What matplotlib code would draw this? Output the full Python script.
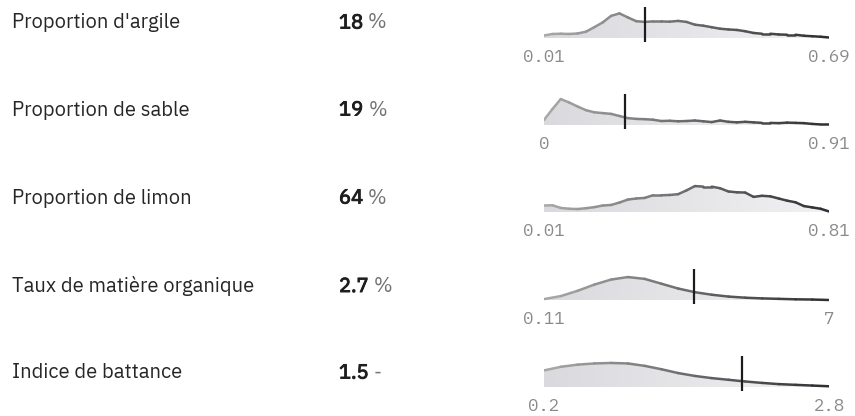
import numpy as np
import matplotlib.pyplot as plt
import matplotlib.patheffects as pe
from matplotlib.collections import LineCollection
from matplotlib.colors import LinearSegmentedColormap, Normalize

# ---- data ----
labels = ["Proportion d'argile", "Proportion de sable", "Proportion de limon",
          "Taux de matière organique", "Indice de battance"]
values = ["18", "19", "64", "2.7", "1.5"]
units = ["%", "%", "%", "%", "-"]
range_min = [0.01, 0.0, 0.01, 0.11, 0.2]
range_max = [0.69, 0.91, 0.81, 7.0, 2.8]
tick_min = ["0.01", "0", "0.01", "0.11", "0.2"]
tick_max = ["0.69", "0.91", "0.81", "7", "2.8"]
markers = [0.25, 0.26, None, 3.73, 2.01]
peaks = [0.93, 0.98, 1.0, 0.85, 0.89]

dens_argile = [0.10, 0.16, 0.17, 0.16, 0.18, 0.25, 0.43, 0.62, 0.88, 0.98, 0.82, 0.67,
               0.64, 0.66, 0.66, 0.65, 0.68, 0.64, 0.53, 0.49, 0.43, 0.37, 0.34, 0.32,
               0.27, 0.20, 0.17, 0.17, 0.14, 0.13, 0.13, 0.09, 0.07, 0.05, 0.02]
dens_sable = [0.19, 0.60, 0.98, 0.85, 0.70, 0.56, 0.48, 0.45, 0.42, 0.34, 0.26, 0.23,
              0.22, 0.20, 0.15, 0.16, 0.14, 0.15, 0.17, 0.14, 0.11, 0.17, 0.12, 0.10,
              0.12, 0.10, 0.08, 0.08, 0.07, 0.09, 0.08, 0.07, 0.04, 0.02, 0.02]
dens_limon = [0.24, 0.25, 0.15, 0.12, 0.11, 0.14, 0.18, 0.24, 0.26, 0.35, 0.46, 0.50,
              0.52, 0.62, 0.62, 0.63, 0.66, 0.80, 0.96, 0.94, 0.94, 0.88, 0.76, 0.73,
              0.72, 0.56, 0.60, 0.58, 0.50, 0.42, 0.36, 0.22, 0.17, 0.12, 0.02]
dens_mo = [0.04, 0.17, 0.40, 0.67, 0.89, 1.00, 0.92, 0.71, 0.50, 0.34, 0.23, 0.15,
           0.10, 0.07, 0.05, 0.03, 0.02, 0.00]
dens_battance = [0.69, 0.84, 0.93, 0.98, 1.00, 0.98, 0.88, 0.74, 0.58, 0.46, 0.37, 0.30,
                 0.23, 0.17, 0.12, 0.09, 0.06, 0.03]
densities = [dens_argile, dens_sable, dens_limon, dens_mo, dens_battance]

# ---- layout (pixels) ----
W, H = 855, 416
text_y = [21.5, 108.5, 196.5, 285, 371.5]
baselines = [38, 125, 212, 300, 387]
spark_x0, spark_x1 = 544, 829
unit_px = 27.0  # height of density 1.0 in pixels

fig = plt.figure(figsize=(W / 100, H / 100), dpi=100)
fig.patch.set_facecolor("white")
renderer = fig.canvas.get_renderer()

line_cmap = LinearSegmentedColormap.from_list("line", ["#a9a9a9", "#2f2f33"])
fill_cmap = LinearSegmentedColormap.from_list("fill", ["#dadade", "#f1f1f3"])
sans = ["IBM Plex Sans", "Noto Sans", "DejaVu Sans"]
mono = ["IBM Plex Mono", "DejaVu Sans Mono"]
fs = 14.5

for i in range(5):
    yb = 1 - (text_y[i] + 7) / H
    fig.text(12 / W, yb, labels[i], fontsize=fs, family=sans, color="#262626",
             va="baseline", ha="left")
    t = fig.text(339 / W, yb, values[i], fontsize=fs, family=sans, color="#1e1e1e",
                 fontweight="bold", va="baseline", ha="left",
                 path_effects=[pe.withStroke(linewidth=0.7, foreground="#1e1e1e")])
    bb = t.get_window_extent(renderer)
    fig.text((bb.x1 + 5) / W, yb, units[i], fontsize=fs, family=sans, color="#737373",
             va="baseline", ha="left")

    # sparkline
    ax = fig.add_axes([spark_x0 / W, 1 - (baselines[i] + 4) / H,
                       (spark_x1 - spark_x0) / W, 36 / H])
    lo, hi = range_min[i], range_max[i]
    d = np.array(densities[i]) * peaks[i]
    x = np.linspace(lo, hi, len(d))
    ylo, yhi = -4 / unit_px, 32 / unit_px

    poly = ax.fill_between(x, 0, d, facecolor="none", edgecolor="none")
    grad = np.linspace(0, 1, 256).reshape(1, -1)
    im = ax.imshow(grad, extent=[lo, hi, 0, d.max()], aspect="auto", cmap=fill_cmap,
                   origin="lower", zorder=1)
    im.set_clip_path(poly.get_paths()[0], transform=ax.transData)

    pts = np.column_stack([x, d]).reshape(-1, 1, 2)
    segs = np.concatenate([pts[:-1], pts[1:]], axis=1)
    lc = LineCollection(segs, cmap=line_cmap, norm=Normalize(lo, hi), linewidths=1.8,
                        capstyle="round", joinstyle="round", zorder=2)
    lc.set_array((x[:-1] + x[1:]) / 2)
    ax.add_collection(lc)

    if markers[i] is not None:
        ax.plot([markers[i], markers[i]], [ylo, 31 / unit_px], color="#1c1c1c",
                lw=1.6, zorder=3, solid_capstyle="butt")

    ax.set_xlim(lo, hi)
    ax.set_ylim(ylo, yhi)
    ax.set_yticks([])
    ax.set_xticks([lo, hi])
    ax.set_xticklabels([tick_min[i], tick_max[i]], family=mono,
                       fontsize=12.5, color="#8a8a8a")
    ax.tick_params(axis="x", length=0, pad=5)
    for s in ax.spines.values():
        s.set_visible(False)
    ax.patch.set_alpha(0)

fig.savefig("out.png", dpi=100, facecolor="white")
